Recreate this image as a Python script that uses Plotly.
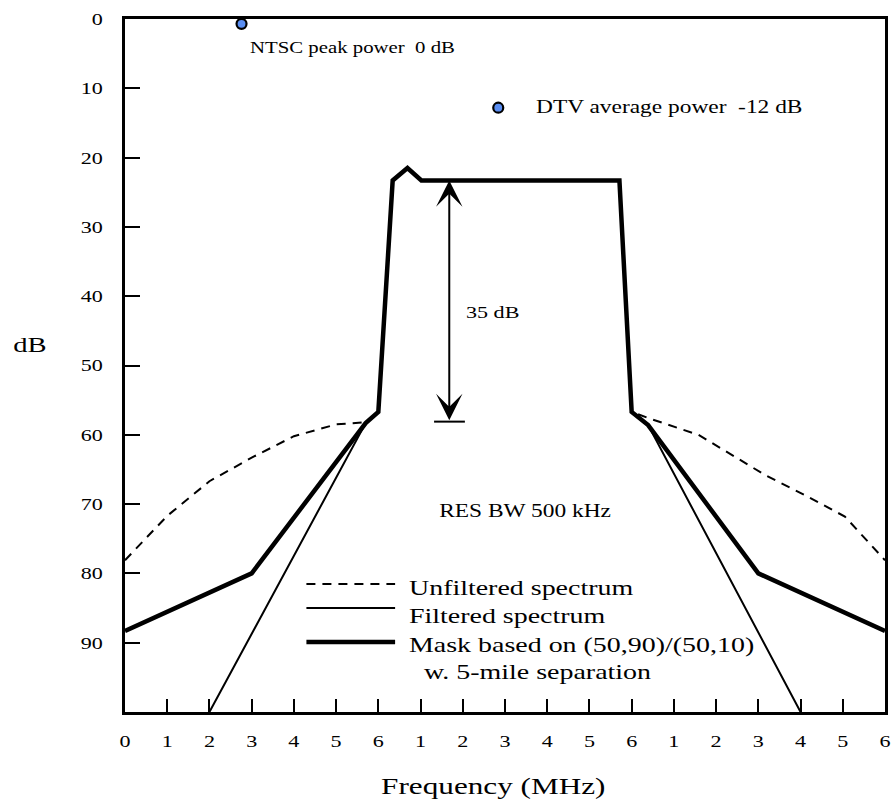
import plotly.graph_objects as go

# ---------------- data ----------------
unf_x = [0, 1, 2, 3, 4, 5, 5.7, 6.0, 6.34, 6.69, 7.02, 11.71, 12.0, 12.4, 13.58, 15.16, 16.1, 17.05, 18]
unf_y = [78.1, 71.7, 66.7, 63.3, 60.2, 58.5, 58.2, 56.7, 23.3, 21.5, 23.3, 23.3, 56.7, 57.6, 60.0, 65.8, 68.7, 71.8, 78.1]

filt_x = [2.0, 5.7, 6.0, 6.34, 6.69, 7.02, 11.71, 12.0, 12.39, 16.0]
filt_y = [100, 58.3, 56.7, 23.3, 21.5, 23.3, 23.3, 56.7, 58.6, 100]

mask_x = [0, 3, 5.7, 6.0, 6.34, 6.69, 7.02, 11.71, 12.0, 12.39, 15.0, 18]
mask_y = [88.3, 80, 58.3, 56.7, 23.3, 21.5, 23.3, 23.3, 56.7, 58.6, 80, 88.3]

points_x = [2.76, 8.84]
points_y = [0.7, 12.8]
points_labels = ["NTSC peak power  0 dB", "DTV average power  -12 dB"]

arrow_x = 7.68
arrow_top = 23.3
arrow_bottom = 58.1
bar_x = [7.32, 8.05]

x_tickvals = list(range(0, 19))
x_ticktext = ["0", "1", "2", "3", "4", "5", "6", "1", "2", "3", "4", "5", "6", "1", "2", "3", "4", "5", "6"]
y_tickvals = [0, 10, 20, 30, 40, 50, 60, 70, 80, 90]

legend_names = ["Unfiltered spectrum", "Filtered spectrum", "Mask based on (50,90)/(50,10)"]
legend_extra = "w. 5-mile separation"

FONT = "Liberation Serif"
BLACK = "#000000"
STRETCH = 1.3   # the reference's lettering is horizontally widened

fig = go.Figure()
fig.add_trace(go.Scatter(x=unf_x, y=unf_y, mode="lines",
                         line=dict(color=BLACK, width=2, dash="9px,7px"), showlegend=False,
                         hoverinfo="skip"))
fig.add_trace(go.Scatter(x=filt_x, y=filt_y, mode="lines",
                         line=dict(color=BLACK, width=2), showlegend=False, hoverinfo="skip"))
fig.add_trace(go.Scatter(x=mask_x, y=mask_y, mode="lines",
                         line=dict(color=BLACK, width=4.5), showlegend=False, hoverinfo="skip"))
fig.add_trace(go.Scatter(x=points_x, y=points_y, mode="markers",
                         marker=dict(size=10, color="#5a8ef2", line=dict(color=BLACK, width=2.2)),
                         showlegend=False, hoverinfo="skip", cliponaxis=False))
fig.add_trace(go.Scatter(x=bar_x, y=[arrow_bottom, arrow_bottom], mode="lines",
                         line=dict(color=BLACK, width=2), showlegend=False, hoverinfo="skip"))

def txt(size):
    return dict(family=FONT, size=size, color=BLACK)

annotations = []
annotations.append(dict(x=2.91, y=4.2, xref="x", yref="y", text=points_labels[0], showarrow=False,
                        xanchor="left", align="left", yanchor="middle", font=txt(16)))
annotations.append(dict(x=9.68, y=12.7, xref="x", yref="y", text=points_labels[1], showarrow=False,
                        xanchor="left", align="left", yanchor="middle", font=txt(18)))
annotations.append(dict(x=arrow_x, y=arrow_top, ax=arrow_x, ay=arrow_bottom, xref="x", yref="y",
                        axref="x", ayref="y", text="", showarrow=True, arrowhead=3, arrowside="end+start",
                        arrowsize=2.2, arrowwidth=2, arrowcolor=BLACK, startarrowhead=3, startarrowsize=2.2))
annotations.append(dict(x=8.03, y=42.4, xref="x", yref="y", text="35 dB", showarrow=False,
                        xanchor="left", align="left", yanchor="middle", font=txt(17)))
annotations.append(dict(x=9.48, y=71.0, xref="x", yref="y", text="RES BW 500 kHz", showarrow=False,
                        xanchor="center", yanchor="middle", font=txt(18)))

annotations.append(dict(x=-0.1246, y=0.5296, xref="paper", yref="paper", text="dB", showarrow=False,
                        xanchor="center", yanchor="middle", font=txt(22)))
annotations.append(dict(x=0.485, y=-0.1068, xref="paper", yref="paper", text="Frequency (MHz)",
                        showarrow=False, xanchor="center", yanchor="middle", font=txt(24)))

leg_line_y = [0.1847, 0.1501, 0.1010]
leg_text_y = [0.1789, 0.1385, 0.0967]
leg_styles = [dict(width=2, dash="9px,7px"), dict(width=2), dict(width=4.5)]
shapes = []
for ly, ty, name, st in zip(leg_line_y, leg_text_y, legend_names, leg_styles):
    shapes.append(dict(type="line", xref="paper", yref="paper", x0=0.2387, x1=0.3554, y0=ly, y1=ly,
                       line=dict(color=BLACK, **st)))
    annotations.append(dict(x=0.3711, y=ty, xref="paper", yref="paper", text=name, showarrow=False,
                            xanchor="left", align="left", yanchor="middle", font=txt(21.5)))
annotations.append(dict(x=0.3908, y=0.0577, xref="paper", yref="paper", text=legend_extra, showarrow=False,
                        xanchor="left", align="left", yanchor="middle", font=txt(21.5)))

fig.update_layout(
    width=891, height=805,
    margin=dict(l=125, r=3, t=19, b=93),
    paper_bgcolor="white", plot_bgcolor="white",
    font=txt(16),
    annotations=annotations, shapes=shapes,
    showlegend=False,
)
fig.update_xaxes(range=[0, 18], tickvals=x_tickvals, ticktext=x_ticktext, ticks="inside", ticklen=13,
                 tickwidth=2, tickcolor=BLACK, showline=True, linewidth=2.5, linecolor=BLACK, mirror=True,
                 showgrid=False, zeroline=False, ticklabelstandoff=12, tickfont=txt(17))
fig.update_yaxes(range=[100, 0], tickvals=y_tickvals, ticks="inside", ticklen=15,
                 tickwidth=2, tickcolor=BLACK, showline=True, linewidth=2.5, linecolor=BLACK, mirror=True,
                 showgrid=False, zeroline=False, ticklabelstandoff=16, tickfont=txt(17))

post = """
var gd = document.getElementById('{plot_id}');
var S = %s;
gd.querySelectorAll('text').forEach(function(t){
  var x = parseFloat(t.getAttribute('x'));
  if (isNaN(x)) { x = 0; }
  var tr = t.getAttribute('transform') || '';
  t.setAttribute('transform', tr + ' translate(' + x + ' 0) scale(' + S + ' 1) translate(' + (-x) + ' 0)');
});
""" % STRETCH

fig.write_html("out.html", post_script=post)
